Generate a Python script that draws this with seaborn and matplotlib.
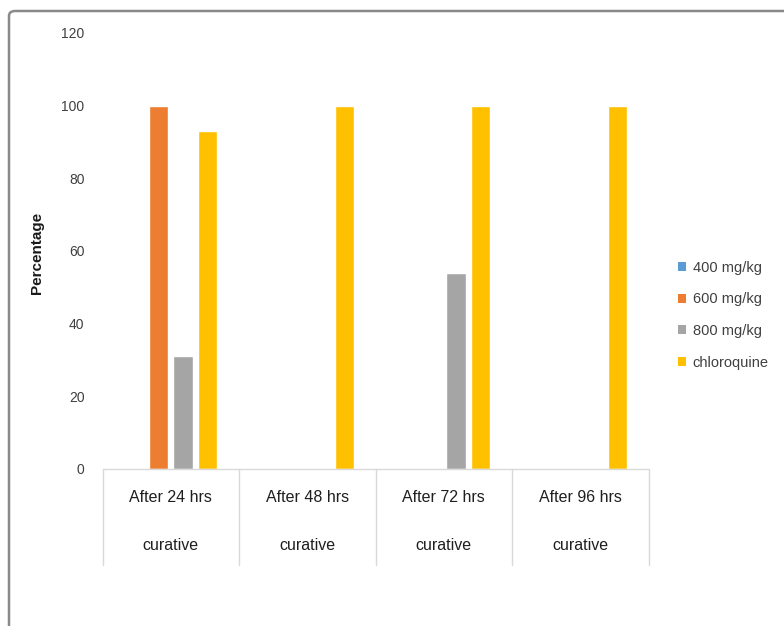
import matplotlib
matplotlib.use("Agg")
import matplotlib.pyplot as plt
from matplotlib.patches import Patch, FancyBboxPatch
from matplotlib.transforms import blended_transform_factory
import seaborn as sns
import pandas as pd

# Percentage cure per time point and treatment group
timepoints = ["After 24 hrs", "After 48 hrs", "After 72 hrs", "After 96 hrs"]
row_label = "curative"
treatments = ["400 mg/kg", "600 mg/kg", "800 mg/kg", "chloroquine"]
dose_400 = [0, 0, 0, 0]
dose_600 = [100, 0, 0, 0]
dose_800 = [31, 0, 54, 0]
chloroquine = [93, 100, 100, 100]
y_ticks = [0, 20, 40, 60, 80, 100, 120]
colors = ["#5B9BD5", "#ED7D31", "#A5A5A5", "#FFC000"]

series = [dose_400, dose_600, dose_800, chloroquine]
df = pd.DataFrame(
    [(tp, trt, v) for trt, vals in zip(treatments, series) for tp, v in zip(timepoints, vals)],
    columns=["timepoint", "treatment", "percentage"],
)

sns.set_style("white")
plt.rcParams["font.family"] = ["Liberation Sans", "DejaVu Sans"]

W, H = 784, 626
fig = plt.figure(figsize=(W / 100, H / 100), dpi=100)
fig.patch.set_facecolor("white")

# outer rounded frame around the chart area
frame = FancyBboxPatch((9 / W, -0.05), 1.2, 1 - 11 / H + 0.05,
                       boxstyle="round,pad=0,rounding_size=0.008",
                       transform=fig.transFigure, facecolor="none",
                       edgecolor="#8a8a8a", linewidth=1.8)
fig.patches.append(frame)

left, right, bottom, top = 102.5, 648.5, 469, 33
ax = fig.add_axes([left / W, 1 - bottom / H, (right - left) / W, (bottom - top) / H])

palette = dict(zip(treatments, colors))
sns.barplot(data=df, x="timepoint", y="percentage", hue="treatment",
            order=timepoints, hue_order=treatments, palette=palette,
            width=0.72, gap=0.22, saturation=1, legend=False, ax=ax)

ax.set_xlim(-0.5, len(timepoints) - 0.5)
ax.set_ylim(0, 120)
ax.set_yticks(y_ticks)
ax.set_yticklabels([str(t) for t in y_ticks], fontsize=10, color="#404040")
ax.tick_params(axis="y", length=0, pad=13)
ax.set_xticks([])
ax.set_xlabel("")
ax.set_ylabel("Percentage", fontsize=11, fontweight="bold", color="#1a1a1a")
ax.yaxis.set_label_coords(-0.108, 0.495)
for s in ax.spines.values():
    s.set_visible(False)

# category table under the bars
trans = blended_transform_factory(ax.transData, ax.transAxes)
line_c = "#d9d9d9"
ax.plot([-0.5, len(timepoints) - 0.5], [0, 0], transform=trans, color=line_c,
        lw=1, clip_on=False)
table_depth = -96 / (bottom - top)
for i in range(len(timepoints) + 1):
    xb = i - 0.5
    ax.plot([xb, xb], [0, table_depth], transform=trans, color=line_c,
            lw=1, clip_on=False)
for i, tp in enumerate(timepoints):
    ax.text(i, -29 / (bottom - top), tp, transform=trans, ha="center",
            va="center", fontsize=11.5, color="#1f1f1f")
    ax.text(i, -76 / (bottom - top), row_label, transform=trans, ha="center",
            va="center", fontsize=11.5, color="#1f1f1f")

handles = [Patch(facecolor=c, edgecolor="none") for c in colors]
fig.legend(handles, treatments, loc="upper left",
           bbox_to_anchor=(678 / W, 1 - 261 / H), frameon=False,
           fontsize=10.5, labelcolor="#404040", handlelength=0.55,
           handleheight=0.55, handletextpad=0.45, labelspacing=1.2,
           borderpad=0, borderaxespad=0)

fig.savefig("out.png", dpi=100, facecolor="white")
